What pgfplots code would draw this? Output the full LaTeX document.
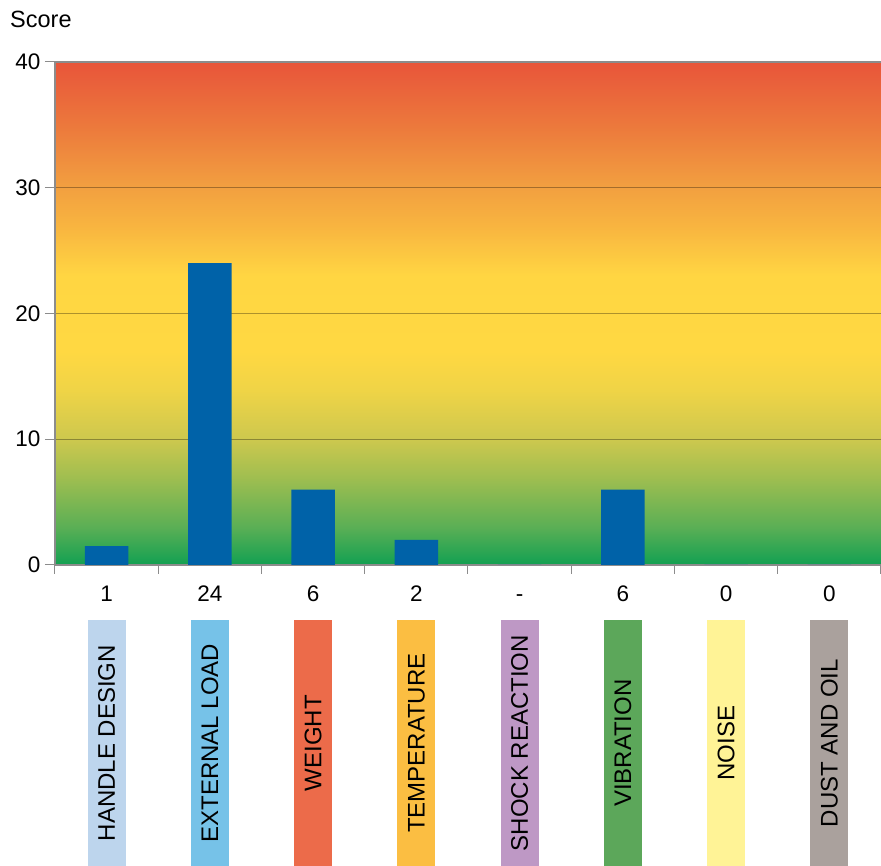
\documentclass[border=0pt]{standalone}
\usepackage{pgfplots}
\pgfplotsset{compat=1.18}
\usepackage{fontspec}
\setmainfont{Liberation Sans}
\definecolor{barblue}{RGB}{0,98,168}
\definecolor{axgray}{RGB}{140,140,140}
\definecolor{cHandle}{RGB}{189,213,237}
\definecolor{cExt}{RGB}{118,194,232}
\definecolor{cWeight}{RGB}{236,107,74}
\definecolor{cTemp}{RGB}{251,190,66}
\definecolor{cShock}{RGB}{190,152,197}
\definecolor{cVib}{RGB}{92,167,90}
\definecolor{cNoise}{RGB}{255,243,150}
\definecolor{cDust}{RGB}{170,161,157}
\pgfdeclareverticalshading{scorebg}{100bp}{%
  color(0bp)=(rgb,255:red,18;green,160;blue,82);
  color(25bp)=(rgb,255:red,18;green,160;blue,82);
  color(28.75bp)=(rgb,255:red,90;green,175;blue,85);
  color(33.75bp)=(rgb,255:red,160;green,190;blue,80);
  color(37.5bp)=(rgb,255:red,205;green,200;blue,78);
  color(42.5bp)=(rgb,255:red,240;green,212;blue,70);
  color(46.25bp)=(rgb,255:red,255;green,216;blue,66);
  color(53.75bp)=(rgb,255:red,255;green,214;blue,66);
  color(58.75bp)=(rgb,255:red,248;green,180;blue,64);
  color(62.5bp)=(rgb,255:red,242;green,160;blue,64);
  color(68.75bp)=(rgb,255:red,236;green,120;blue,60);
  color(75bp)=(rgb,255:red,232;green,85;blue,58);
  color(100bp)=(rgb,255:red,232;green,85;blue,58)}
\begin{document}
\begin{tikzpicture}
\useasboundingbox (-55pt,-301pt) rectangle (826pt,565pt);
\begin{axis}[
  at={(0,0)}, anchor=south west,
  scale only axis,
  width=826pt, height=503pt,
  xmin=-0.5, xmax=7.5, ymin=0, ymax=40,
  axis background/.style={shading=scorebg},
  axis lines*=left,
  axis line style={axgray, line width=1.5pt},
  clip=false,
  ybar, bar width=0.42, bar shift=0pt,
  ytick={0,10,20,30,40},
  xtick={0,...,7},
  xticklabels={1,24,6,2,{\vphantom{0}-},6,0,0},
  minor xtick={-0.5,0.5,...,7.5},
  major x tick style={draw=none},
  minor tick length=9pt,
  major tick length=10pt,
  tick align=outside,
  tick style={axgray, line width=1pt},
  ymajorgrids,
  grid style={black, opacity=0.32, line width=0.8pt},
  /pgf/number format/assume math mode=true,
  tick label style={font=\fontsize{22.5}{26}\selectfont, black},
  xticklabel style={yshift=-7pt},
  yticklabel style={xshift=-1pt},
]
\addplot[fill=barblue, draw=none] coordinates {(0,1.5) (1,24) (2,6) (3,2) (4,0) (5,6) (6,0) (7,0)};
\draw[axgray, line width=2pt] (rel axis cs:0,1) -- (rel axis cs:1,1);
\node[anchor=base west, font=\fontsize{23.5}{27}\selectfont, inner sep=0pt] at ([xshift=-45pt,yshift=34pt]rel axis cs:0,1) {Score};
\begin{scope}[every node/.style={rotate=90, anchor=east, minimum width=246pt, minimum height=38pt, inner sep=0pt, font=\fontsize{24}{27}\selectfont, text=black}]
\node[fill=cHandle] at ([yshift=-55pt]axis cs:0,0) {HANDLE DESIGN};
\node[fill=cExt] at ([yshift=-55pt]axis cs:1,0) {EXTERNAL LOAD};
\node[fill=cWeight] at ([yshift=-55pt]axis cs:2,0) {WEIGHT};
\node[fill=cTemp] at ([yshift=-55pt]axis cs:3,0) {TEMPERATURE};
\node[fill=cShock] at ([yshift=-55pt]axis cs:4,0) {SHOCK REACTION};
\node[fill=cVib] at ([yshift=-55pt]axis cs:5,0) {VIBRATION};
\node[fill=cNoise] at ([yshift=-55pt]axis cs:6,0) {NOISE};
\node[fill=cDust] at ([yshift=-55pt]axis cs:7,0) {DUST AND OIL};
\end{scope}
\end{axis}
\end{tikzpicture}
\end{document}
